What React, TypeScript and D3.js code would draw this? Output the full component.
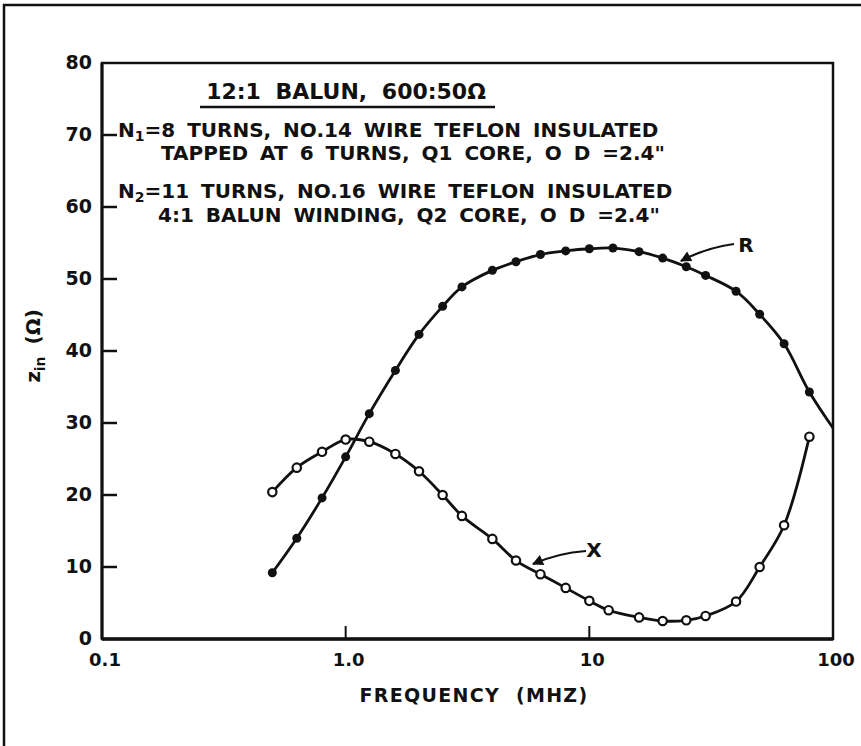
import { useEffect, useRef } from 'react';
import * as d3 from 'd3';

// frequency in MHz, impedance in ohms
const rFreq = [0.5, 0.63, 0.8, 1.0, 1.25, 1.6, 2.0, 2.5, 3.0, 4.0, 5.0, 6.3, 8.0, 10, 12.5, 16, 20, 25, 30, 40, 50, 63, 80, 100];
const rValues = [9.2, 14.0, 19.6, 25.3, 31.3, 37.3, 42.3, 46.2, 48.9, 51.2, 52.4, 53.4, 53.9, 54.2, 54.3, 53.8, 52.9, 51.7, 50.5, 48.3, 45.1, 41.0, 34.3, 29.3];

const xFreq = [0.5, 0.63, 0.8, 1.0, 1.25, 1.6, 2.0, 2.5, 3.0, 4.0, 5.0, 6.3, 8.0, 10, 12, 16, 20, 25, 30, 40, 50, 63, 80];
const xValues = [20.4, 23.8, 26.0, 27.7, 27.4, 25.7, 23.3, 20.0, 17.1, 13.9, 10.9, 9.0, 7.1, 5.3, 4.0, 3.0, 2.5, 2.6, 3.2, 5.2, 10.0, 15.8, 28.1];

const yTicks = [0, 10, 20, 30, 40, 50, 60, 70, 80];
const xTickValues = [0.1, 1, 10, 100];
const xTickLabels = ['0.1', '1.0', '10', '100'];

const titleText = '12:1 BALUN, 600:50Ω';
const noteLines = [
    { n: '1', text: '=8 TURNS, NO.14 WIRE TEFLON INSULATED' },
    { n: null, text: 'TAPPED AT 6 TURNS, Q1 CORE, O D =2.4"' },
    { n: '2', text: '=11 TURNS, NO.16 WIRE TEFLON INSULATED' },
    { n: null, text: '4:1 BALUN WINDING, Q2 CORE, O D =2.4"' },
];

export default function App() {
    const ref = useRef<SVGSVGElement>(null);

    useEffect(() => {
        const svg = d3.select(ref.current);
        svg.selectAll('*').remove();

        const W = 861, H = 746;
        const m = { left: 102, right: 833, top: 63, bottom: 639 };
        const font = '"DejaVu Sans", sans-serif';
        const ink = '#111';

        const x = d3.scaleLog().domain([0.1, 100]).range([m.left, m.right]);
        const y = d3.scaleLinear().domain([0, 80]).range([m.bottom, m.top]);

        svg.append('rect').attr('width', W).attr('height', H).attr('fill', '#fff');

        // scan frame (left + top)
        svg.append('path')
            .attr('d', `M4,${H} L4,5 L${W},5`)
            .attr('fill', 'none').attr('stroke', ink).attr('stroke-width', 2.5);

        // plot box
        svg.append('rect')
            .attr('x', m.left).attr('y', m.top)
            .attr('width', m.right - m.left).attr('height', m.bottom - m.top)
            .attr('fill', 'none').attr('stroke', ink).attr('stroke-width', 2.5);
        svg.append('line')
            .attr('x1', m.left).attr('x2', m.right).attr('y1', m.bottom).attr('y2', m.bottom)
            .attr('stroke', ink).attr('stroke-width', 3.5);
        svg.append('line')
            .attr('x1', m.left).attr('x2', m.left).attr('y1', m.top).attr('y2', m.bottom)
            .attr('stroke', ink).attr('stroke-width', 3);

        // y ticks + labels
        svg.append('g').selectAll('line')
            .data(yTicks.filter(d => d > 0 && d < 80))
            .join('line')
            .attr('x1', m.left).attr('x2', m.left + 15)
            .attr('y1', d => y(d)).attr('y2', d => y(d))
            .attr('stroke', ink).attr('stroke-width', 2.5);
        svg.append('g').selectAll('text')
            .data(yTicks)
            .join('text')
            .attr('x', 92).attr('y', d => y(d) + 6)
            .attr('text-anchor', 'end')
            .attr('font-family', font).attr('font-weight', 'bold').attr('font-size', 19)
            .attr('fill', ink)
            .text(d => d);

        // x ticks + labels
        svg.append('g').selectAll('line')
            .data(xTickValues.slice(1, 3))
            .join('line')
            .attr('x1', d => x(d)).attr('x2', d => x(d))
            .attr('y1', m.bottom).attr('y2', m.bottom - 13)
            .attr('stroke', ink).attr('stroke-width', 2);
        svg.append('g').selectAll('text')
            .data(xTickValues)
            .join('text')
            .attr('x', d => x(d) + 3).attr('y', 666)
            .attr('text-anchor', 'middle')
            .attr('font-family', font).attr('font-weight', 'bold').attr('font-size', 18)
            .attr('fill', ink)
            .text((d, i) => xTickLabels[i]);

        svg.append('text')
            .attr('x', 474).attr('y', 702)
            .attr('text-anchor', 'middle')
            .attr('font-family', font).attr('font-weight', 'bold').attr('font-size', 19)
            .attr('letter-spacing', 1.3).attr('word-spacing', 8)
            .attr('fill', ink)
            .text('FREQUENCY (MHZ)');

        // y axis title
        const yt = svg.append('text')
            .attr('transform', `translate(40, ${(m.top + m.bottom) / 2 - 5}) rotate(-90)`)
            .attr('text-anchor', 'middle')
            .attr('font-family', font).attr('font-weight', 'bold').attr('font-size', 20)
            .attr('fill', ink);
        yt.append('tspan').text('z');
        yt.append('tspan').attr('font-size', 14).attr('dy', 5).text('in');
        yt.append('tspan').attr('dy', -5).attr('dx', 12).text('(Ω)');

        // curves
        const line = d3.line<[number, number]>()
            .x(d => x(d[0]))
            .y(d => y(d[1]))
            .curve(d3.curveCatmullRom.alpha(0.5));

        const rData = rFreq.map((f, i) => [f, rValues[i]] as [number, number]);
        const xData = xFreq.map((f, i) => [f, xValues[i]] as [number, number]);

        svg.append('path').attr('d', line(rData))
            .attr('fill', 'none').attr('stroke', ink).attr('stroke-width', 2.8);
        svg.append('path').attr('d', line(xData))
            .attr('fill', 'none').attr('stroke', ink).attr('stroke-width', 2.8);

        svg.append('g').selectAll('circle')
            .data(rData.filter(d => d[0] < 100))
            .join('circle')
            .attr('cx', d => x(d[0])).attr('cy', d => y(d[1]))
            .attr('r', 4.5).attr('fill', ink);
        svg.append('g').selectAll('circle')
            .data(xData)
            .join('circle')
            .attr('cx', d => x(d[0])).attr('cy', d => y(d[1]))
            .attr('r', 4.2).attr('fill', '#fff').attr('stroke', ink).attr('stroke-width', 2.2);

        // curve labels with arrows
        const defs = svg.append('defs');
        defs.append('marker')
            .attr('id', 'head').attr('viewBox', '0 0 10 10')
            .attr('refX', 9).attr('refY', 5)
            .attr('markerWidth', 6).attr('markerHeight', 5)
            .attr('orient', 'auto')
            .append('path').attr('d', 'M0,0 L10,5 L0,10 Z').attr('fill', ink);

        const callouts = [
            { label: 'R', lx: 746, ly: 252, path: 'M734,244 Q705,248 681,261' },
            { label: 'X', lx: 594, ly: 557, path: 'M586,551 Q558,553 533,564' },
        ];
        callouts.forEach(c => {
            svg.append('path').attr('d', c.path)
                .attr('fill', 'none').attr('stroke', ink).attr('stroke-width', 2.2)
                .attr('marker-end', 'url(#head)');
            svg.append('text')
                .attr('x', c.lx).attr('y', c.ly)
                .attr('text-anchor', 'middle')
                .attr('font-family', font).attr('font-weight', 'bold').attr('font-size', 20)
                .attr('fill', ink)
                .text(c.label);
        });

        // notes block
        svg.append('text')
            .attr('x', 346).attr('y', 99)
            .attr('text-anchor', 'middle')
            .attr('font-family', font).attr('font-weight', 'bold').attr('font-size', 22)
            .attr('word-spacing', 7)
            .attr('fill', ink)
            .text(titleText);
        svg.append('line')
            .attr('x1', 200).attr('x2', 495).attr('y1', 107).attr('y2', 107)
            .attr('stroke', ink).attr('stroke-width', 2.5);

        const starts = [118, 161, 118, 158];
        const baselines = [137, 160, 198, 222];
        noteLines.forEach((l, i) => {
            const t = svg.append('text')
                .attr('x', starts[i]).attr('y', baselines[i])
                .attr('font-family', font).attr('font-weight', 'bold').attr('font-size', 20)
                .attr('word-spacing', 5)
                .attr('fill', ink);
            if (l.n) {
                t.append('tspan').text('N');
                t.append('tspan').attr('font-size', 14).attr('dy', 4).text(l.n);
                t.append('tspan').attr('dy', -4).text(l.text);
            } else {
                t.text(l.text);
            }
        });
    }, []);

    return (
        <svg ref={ref} width={861} height={746}
            style={{ position: 'absolute', left: 0, top: 0, display: 'block' }} />
    );
}
